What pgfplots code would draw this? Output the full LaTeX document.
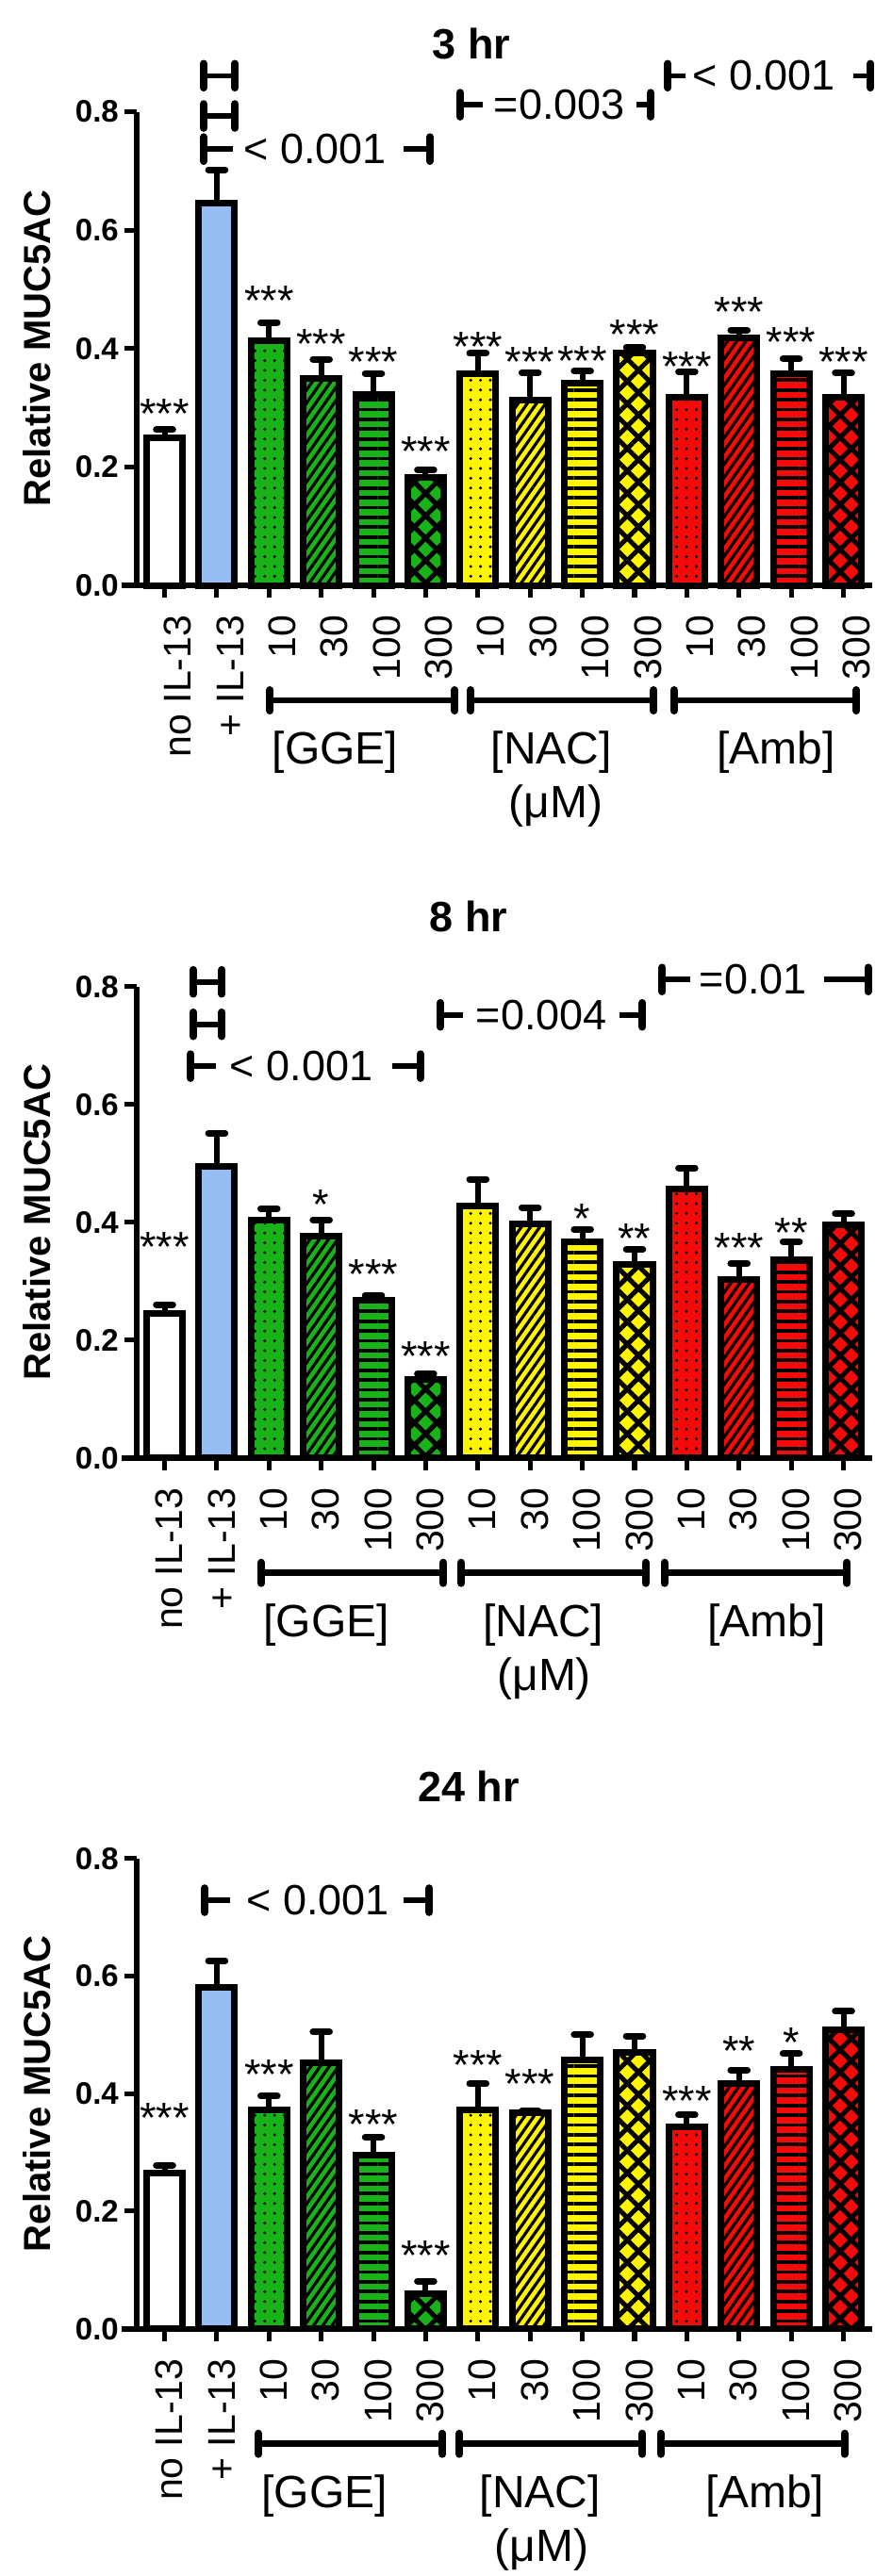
\documentclass[border=0pt]{standalone}
\usepackage{fontspec}
\setmainfont{Liberation Sans}
\usepackage{pgfplots}
\pgfplotsset{compat=1.18}
\usetikzlibrary{patterns.meta}

\definecolor{gge}{RGB}{25,178,25}
\definecolor{nac}{RGB}{255,245,0}
\definecolor{amb}{RGB}{245,10,10}
\definecolor{il}{RGB}{150,190,245}

\newcommand\xls{3.5pt}
\pgfplotsset{
  panel/.style={
    scale only axis, width=195.1pt,
    xmin=-0.54, xmax=13.55, ymin=0, ymax=0.8,
    axis x line*=bottom, axis y line*=left,
    axis line style={-, line width=1.5pt},
    tick align=outside, major tick length=3.25pt,
    tick style={black, line width=1.25pt},
    xtick={0,...,13},
    xticklabels={no IL-13, + IL-13, 10, 30, 100, 300, 10, 30, 100, 300, 10, 30, 100, 300},
    xticklabel style={font=\fontsize{10.25}{11}\selectfont, inner sep=0pt, xshift=\xls, rotate=90, anchor=east},
    xticklabel shift=4.5pt,
    ytick={0,0.2,0.4,0.6,0.8},
    yticklabel style={font=\bfseries\fontsize{8.25}{9}\selectfont, inner sep=0pt,
      /pgf/number format/fixed, /pgf/number format/fixed zerofill,
      /pgf/number format/precision=1, /pgf/number format/assume math mode=true},
    yticklabel shift=1.25pt,
    clip=false,
    error bars/y dir=plus, error bars/y explicit,
    error bars/error bar style={line width=1.5pt, black},
    error bars/error mark options={rotate=90, line width=1.75pt, mark size=2.2pt, line cap=round, black},
  },
  bb/.style={ybar, bar width=9.5pt, bar shift=0pt, draw=black, line width=1.75pt, mark=none},
  s0/.style={bb, fill=white},
  s1/.style={bb, fill=il},
  sD/.style={bb, fill=#1, postaction={pattern={Dots[radius=0.42pt,distance=2.6pt]}, pattern color=black}},
  sL/.style={bb, fill=#1, postaction={pattern={Lines[angle=55,distance=2pt,line width=0.8pt]}, pattern color=black}},
  sH/.style={bb, fill=#1, postaction={pattern={Lines[angle=0,distance=2.6pt,line width=0.95pt]}, pattern color=black}},
  sX/.style={bb, fill=#1, postaction={pattern={Lines[angle=45,distance=4.2pt,line width=1.25pt]}, pattern color=black}, postaction={pattern={Lines[angle=-45,distance=4.2pt,line width=1.25pt]}, pattern color=black}},
}

\newcommand\B[4]{\addplot[#1] coordinates {(#2,#3) +- (0,#4)};}
\newcommand\St[3]{\node[font=\fontsize{11.25}{13}\selectfont, anchor=north, inner sep=0pt, yshift=1.6pt] at (axis cs:#1,#2) {#3};}
\newcommand\Vb[2]{\draw[line width=2pt, line cap=round] ([yshift=-3.2pt]axis cs:#1,#2) -- ([yshift=3.2pt]axis cs:#1,#2);}
\newcommand\Hs[3]{\Vb{#1}{#3}\Vb{#2}{#3}\draw[line width=1.4pt] (axis cs:#1,#3) -- (axis cs:#2,#3);}
\newcommand\Sg[7]{\Vb{#1}{#6}\draw[line width=1.4pt] (axis cs:#1,#6) -- (axis cs:#2,#6);
  \node[font=\fontsize{11.25}{13}\selectfont, inner sep=0pt] at (axis cs:#3,#6) {#7};
  \draw[line width=1.4pt] (axis cs:#4,#6) -- (axis cs:#5,#6);\Vb{#5}{#6}}
\newcommand\Gb[2]{\draw[line width=1.7pt] ([yshift=-30.5pt]axis cs:#1,0) -- ([yshift=-30.5pt]axis cs:#2,0);
  \draw[line width=2pt, line cap=round] ([yshift=-27.75pt]axis cs:#1,0) -- ([yshift=-33.25pt]axis cs:#1,0);
  \draw[line width=2pt, line cap=round] ([yshift=-27.75pt]axis cs:#2,0) -- ([yshift=-33.25pt]axis cs:#2,0);}
\newcommand\Gl[2]{\node[font=\fontsize{12}{14}\selectfont, inner sep=0pt] at ([yshift=-44.25pt]axis cs:#1,0) {#2};}
\newcommand\Mu[1]{\node[font=\fontsize{12}{14}\selectfont, inner sep=0pt] at ([yshift=-58.5pt]axis cs:#1,0) {(μM)};}
\newcommand\Xext{\draw[line width=1.5pt] (axis cs:-0.82,0) -- (axis cs:-0.54,0);}

\begin{document}
\begin{tikzpicture}
\useasboundingbox (0,0) rectangle (236.25pt,-683.25pt);

% ---------- 3 hr ----------
\begin{axis}[panel, at={(36.15pt,-155.25pt)}, anchor=south west, height=125.6pt]
\B{s0}{0}{0.250}{0.013}
\B{s1}{1}{0.645}{0.057}
\B{sD=gge}{2}{0.414}{0.030}
\B{sL=gge}{3}{0.350}{0.032}
\B{sH=gge}{4}{0.323}{0.035}
\B{sX=gge}{5}{0.182}{0.013}
\B{sD=nac}{6}{0.358}{0.034}
\B{sL=nac}{7}{0.313}{0.046}
\B{sH=nac}{8}{0.341}{0.021}
\B{sX=nac}{9}{0.393}{0.009}
\B{sD=amb}{10}{0.318}{0.043}
\B{sL=amb}{11}{0.418}{0.013}
\B{sH=amb}{12}{0.358}{0.025}
\B{sX=amb}{13}{0.318}{0.041}
\Xext
\St{0}{0.305}{***}\St{2}{0.496}{***}\St{3}{0.424}{***}\St{4}{0.393}{***}\St{5}{0.242}{***}
\St{6}{0.419}{***}\St{7}{0.393}{***}\St{8}{0.395}{***}\St{9}{0.440}{***}
\St{10}{0.385}{***}\St{11}{0.477}{***}\St{12}{0.427}{***}\St{13}{0.393}{***}
\Hs{0.75}{1.35}{0.861}
\Hs{0.75}{1.35}{0.793}
\Sg{0.75}{1.31}{2.88}{4.58}{5.08}{0.737}{< 0.001}
\Sg{5.66}{6.10}{7.56}{9.04}{9.31}{0.812}{=0.003}
\Sg{9.64}{9.97}{11.48}{13.18}{13.52}{0.861}{< 0.001}
\Gb{2.02}{5.56}\Gb{5.86}{9.37}\Gb{9.75}{13.25}
\Gl{3.27}{[GGE]}\Gl{7.41}{[NAC]}\Gl{11.71}{[Amb]}\Mu{7.49}
\end{axis}

% ---------- 8 hr ----------
\renewcommand\xls{1.25pt}
\begin{axis}[panel, at={(36.15pt,-386.675pt)}, anchor=south west, height=125pt]
\B{s0}{0}{0.245}{0.015}
\B{s1}{1}{0.495}{0.056}
\B{sD=gge}{2}{0.403}{0.020}
\B{sL=gge}{3}{0.377}{0.027}
\B{sH=gge}{4}{0.268}{0.008}
\B{sX=gge}{5}{0.133}{0.010}
\B{sD=nac}{6}{0.427}{0.046}
\B{sL=nac}{7}{0.397}{0.028}
\B{sH=nac}{8}{0.366}{0.022}
\B{sX=nac}{9}{0.328}{0.026}
\B{sD=amb}{10}{0.457}{0.035}
\B{sL=amb}{11}{0.303}{0.027}
\B{sH=amb}{12}{0.337}{0.030}
\B{sX=amb}{13}{0.395}{0.020}
\Xext
\St{0}{0.374}{***}\St{3}{0.446}{*}\St{4}{0.327}{***}\St{5}{0.188}{***}
\St{8}{0.422}{*}\St{9}{0.388}{**}\St{11}{0.372}{***}\St{12}{0.398}{**}
\Hs{0.55}{1.10}{0.808}
\Hs{0.55}{1.10}{0.736}
\Sg{0.50}{0.99}{2.62}{4.36}{4.90}{0.665}{< 0.001}
\Sg{5.28}{5.72}{7.22}{8.72}{9.15}{0.752}{=0.004}
\Sg{9.53}{10.07}{11.27}{12.63}{13.47}{0.812}{=0.01}
\Gb{1.85}{5.34}\Gb{5.68}{9.21}\Gb{9.57}{13.07}
\Gl{3.10}{[GGE]}\Gl{7.25}{[NAC]}\Gl{11.53}{[Amb]}\Mu{7.27}
\end{axis}

% ---------- 24 hr ----------
\begin{axis}[panel, at={(36.15pt,-617.675pt)}, anchor=south west, height=124.75pt]
\B{s0}{0}{0.265}{0.013}
\B{s1}{1}{0.580}{0.046}
\B{sD=gge}{2}{0.372}{0.024}
\B{sL=gge}{3}{0.453}{0.052}
\B{sH=gge}{4}{0.295}{0.031}
\B{sX=gge}{5}{0.060}{0.021}
\B{sD=nac}{6}{0.372}{0.045}
\B{sL=nac}{7}{0.368}{0.002}
\B{sH=nac}{8}{0.457}{0.044}
\B{sX=nac}{9}{0.470}{0.028}
\B{sD=amb}{10}{0.344}{0.020}
\B{sL=amb}{11}{0.417}{0.023}
\B{sH=amb}{12}{0.442}{0.026}
\B{sX=amb}{13}{0.508}{0.032}
\Xext
\St{0}{0.374}{***}\St{2}{0.449}{***}\St{4}{0.364}{***}\St{5}{0.140}{***}
\St{6}{0.465}{***}\St{7}{0.433}{***}\St{10}{0.404}{***}\St{11}{0.489}{**}\St{12}{0.503}{*}
\Sg{0.77}{1.26}{2.94}{4.58}{5.07}{0.729}{< 0.001}
\Gb{1.80}{5.32}\Gb{5.65}{9.15}\Gb{9.50}{13.02}
\Gl{3.06}{[GGE]}\Gl{7.19}{[NAC]}\Gl{11.50}{[Amb]}\Mu{7.22}
\end{axis}

% titles and y labels
\node[font=\bfseries\fontsize{11.25}{13}\selectfont, inner sep=0pt] at (125pt,-11.5pt) {3 hr};
\node[font=\bfseries\fontsize{11.25}{13}\selectfont, inner sep=0pt] at (124.25pt,-243pt) {8 hr};
\node[font=\bfseries\fontsize{11.25}{13}\selectfont, inner sep=0pt] at (124.25pt,-473.75pt) {24 hr};
\node[font=\bfseries\fontsize{10}{12}\selectfont, inner sep=0pt, rotate=90] at (9.75pt,-92.4pt) {Relative MUC5AC};
\node[font=\bfseries\fontsize{10}{12}\selectfont, inner sep=0pt, rotate=90] at (9.75pt,-324.2pt) {Relative MUC5AC};
\node[font=\bfseries\fontsize{10}{12}\selectfont, inner sep=0pt, rotate=90] at (9.75pt,-555.3pt) {Relative MUC5AC};
\end{tikzpicture}
\end{document}
